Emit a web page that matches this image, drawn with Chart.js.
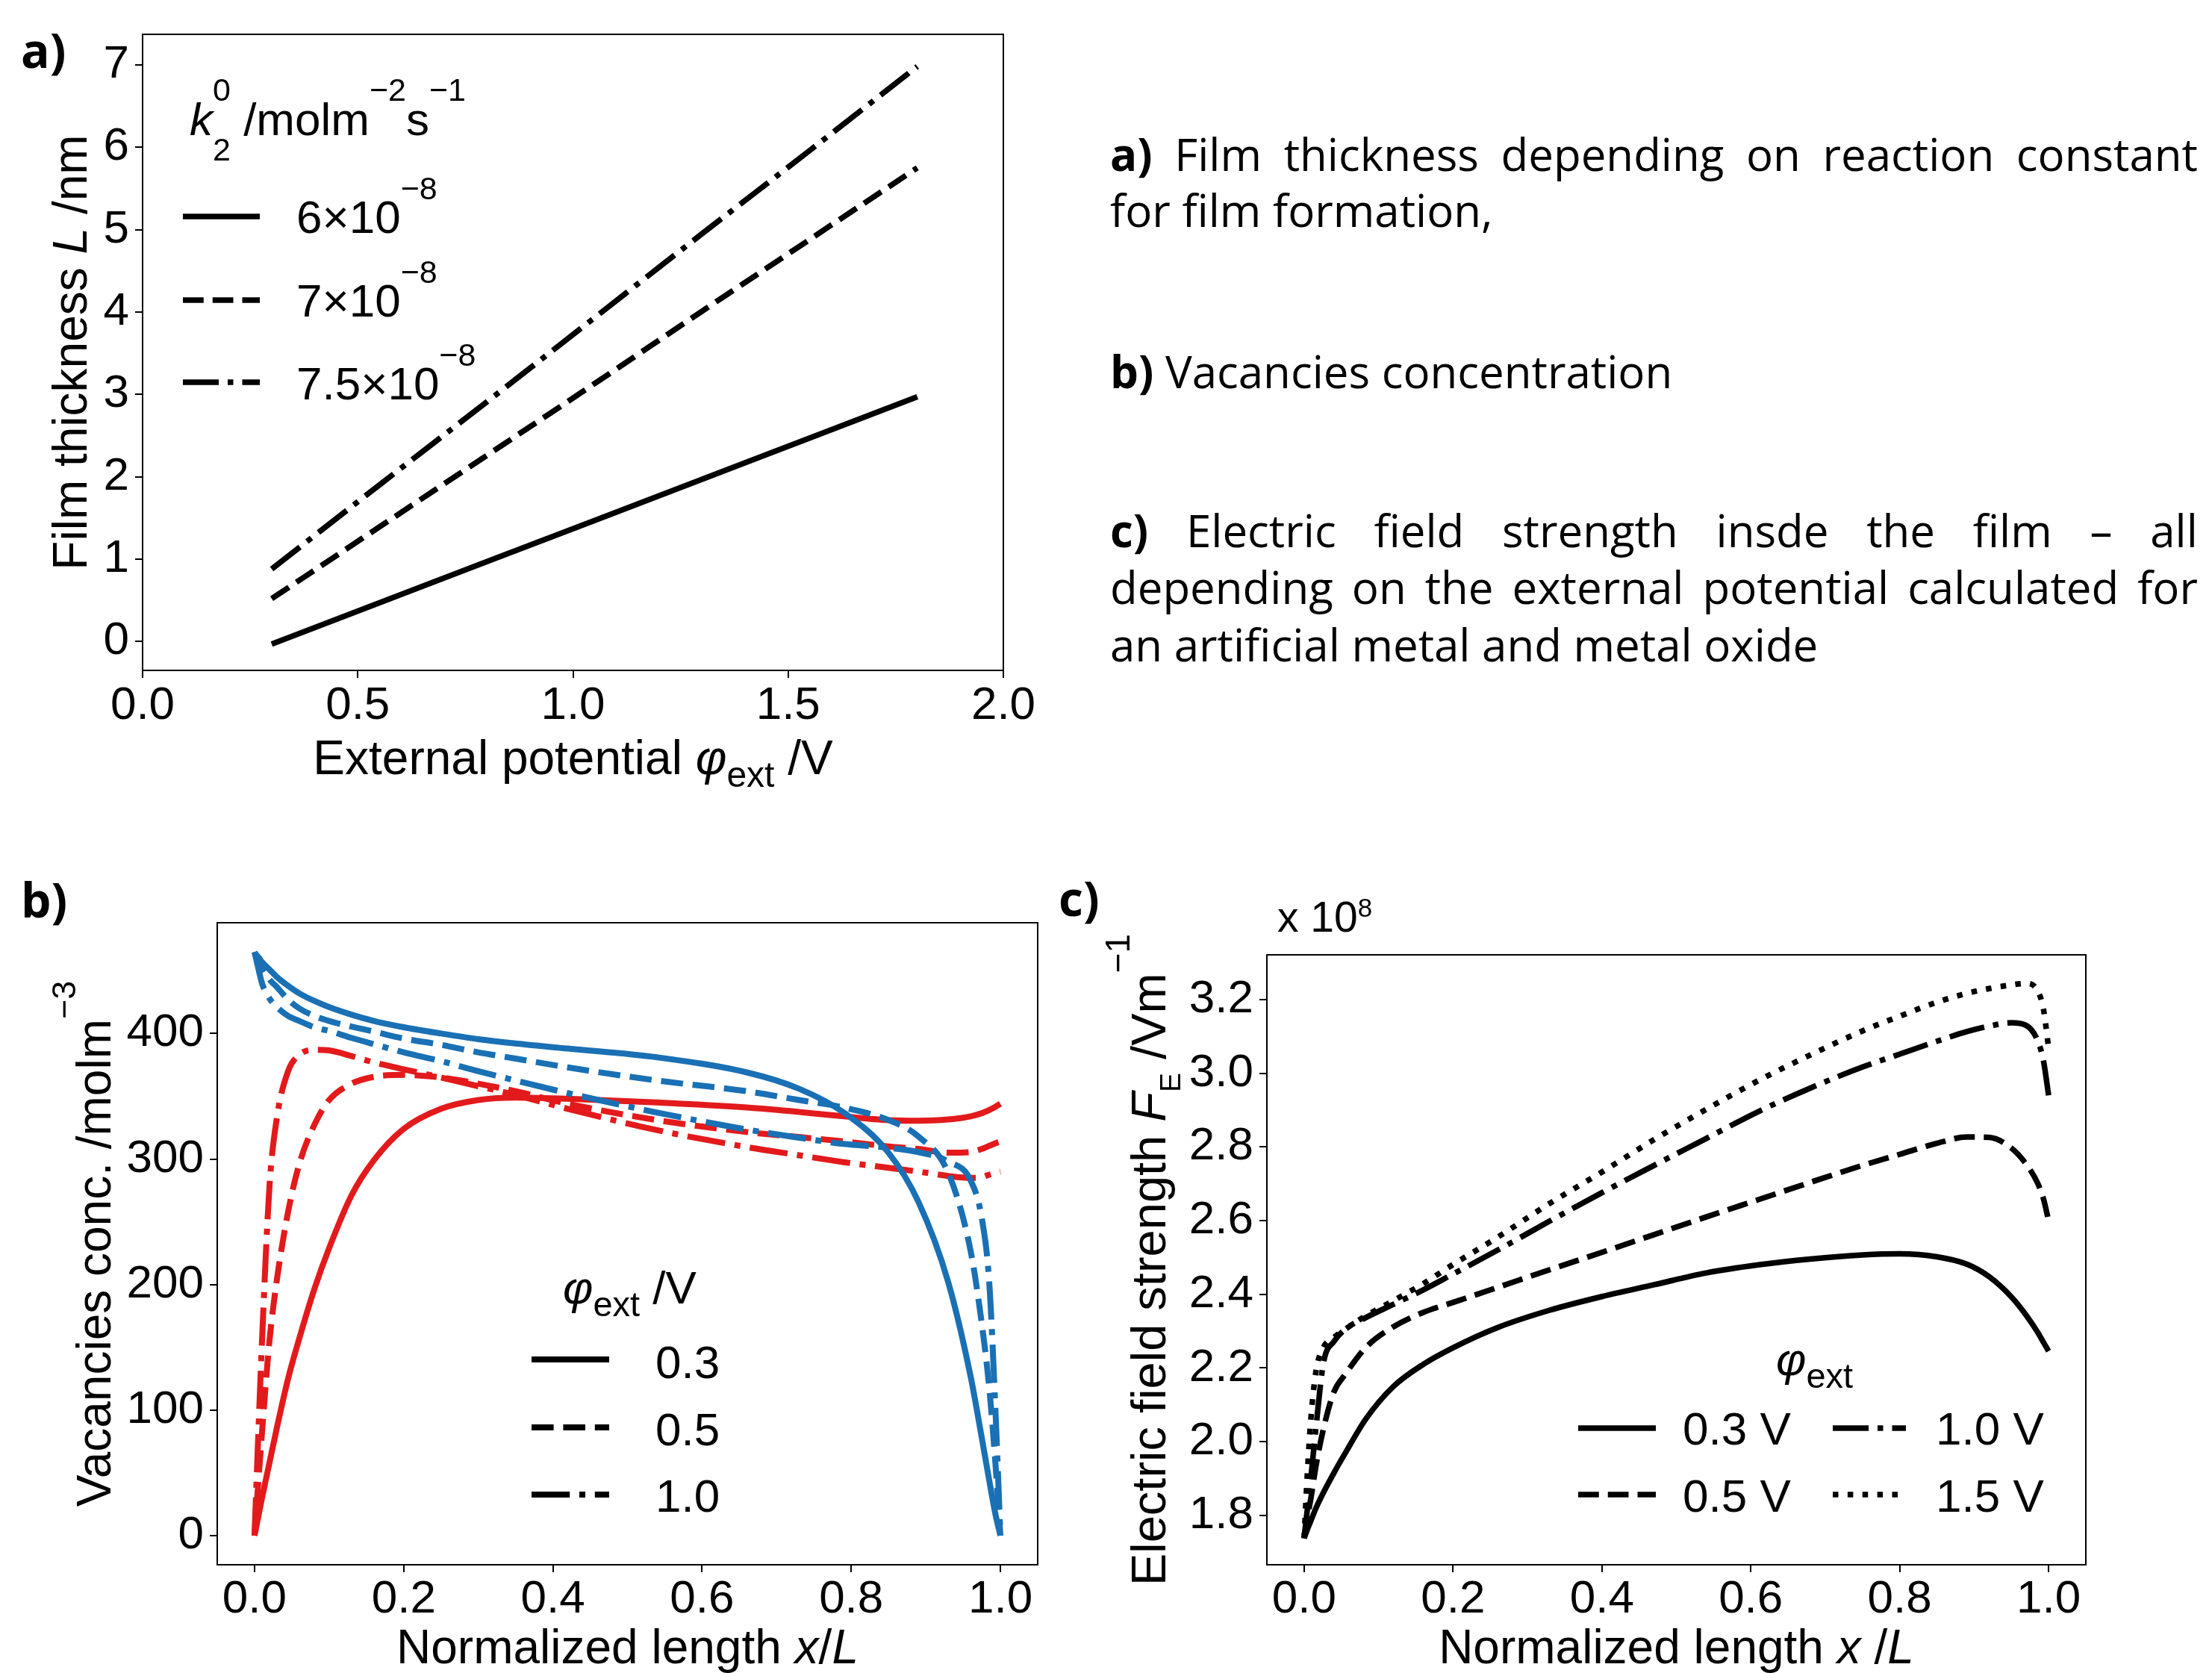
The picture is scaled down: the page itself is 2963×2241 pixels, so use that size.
<!DOCTYPE html>
<html>
<head>
<meta charset="utf-8">
<script src="https://cdn.jsdelivr.net/npm/chart.js@4.4.1/dist/chart.umd.min.js"></script>
<style>
  html, body { margin: 0; padding: 0; background: #fff; }
  body { width: 2963px; height: 2241px; position: relative; overflow: hidden; }
  canvas { position: absolute; }
  .lbl { position: absolute; font-family: 'Open Sans'; font-weight: 700; font-size: 64px; line-height: 64px; color: #000; }
  .txt { position: absolute; left: 1487px; width: 1457px; font-family: 'Open Sans'; font-size: 60px; line-height: 60px; white-space: nowrap; color: #000; }
  .just { display: flex; justify-content: space-between; }
</style>
</head>
<body>
<canvas id="chartA" width="1440" height="1100" style="left:0;top:0;width:1440px;height:1100px"></canvas>
<canvas id="chartB" width="1420" height="1101" style="left:0;top:1140px;width:1420px;height:1101px"></canvas>
<canvas id="chartC" width="1543" height="1101" style="left:1420px;top:1140px;width:1543px;height:1101px"></canvas>

<div class="lbl" style="left:28px;top:35px">a)</div>
<div class="lbl" style="left:28px;top:1173px">b)</div>
<div class="lbl" style="left:1418px;top:1171px">c)</div>

<div class="txt just" style="top:176px"><b>a)</b><span>Film</span><span>thickness</span><span>depending</span><span>on</span><span>reaction</span><span>constant</span></div>
<div class="txt" style="top:251px">for film formation,</div>
<div class="txt" style="top:467px"><b>b)</b> Vacancies concentration</div>
<div class="txt just" style="top:680px"><b>c)</b><span>Electric</span><span>field</span><span>strength</span><span>insde</span><span>the</span><span>film</span><span>–</span><span>all</span></div>
<div class="txt just" style="top:756px"><span>depending</span><span>on</span><span>the</span><span>external</span><span>potential</span><span>calculated</span><span>for</span></div>
<div class="txt" style="top:833px">an artificial metal and metal oxide</div>

<script>
// a) film thickness vs external potential
const aX = [0.3, 0.55, 0.8, 1.05, 1.3, 1.55, 1.8];
const aK6 = [-0.03, 0.47, 0.97, 1.47, 1.97, 2.47, 2.97];
const aK7 = [0.52, 1.39, 2.26, 3.13, 4.01, 4.88, 5.75];
const aK75 = [0.88, 1.9, 2.91, 3.93, 4.95, 5.96, 6.98];
const aXTicks = [0, 0.5, 1, 1.5, 2];
const aYTicks = [0, 1, 2, 3, 4, 5, 6, 7];

// b) vacancies concentration, blue = metal side, red = oxide side
const bX = [0, 0.005, 0.01, 0.02, 0.03, 0.045, 0.06, 0.08, 0.1, 0.13, 0.16, 0.2, 0.25, 0.3, 0.35, 0.42, 0.54, 0.66, 0.73, 0.79, 0.85, 0.89, 0.93, 0.96, 0.975, 0.985, 0.993, 1.0];
const bBlue03 = [464, 461, 457, 451, 445, 438, 432, 426, 421, 415, 410, 405, 400, 395.5, 392, 388, 381, 369, 356, 337, 305, 266, 202, 127, 78, 44, 18, 0];
const bBlue05 = [465, 458, 452, 443, 437, 427, 420, 414, 410, 405.5, 401.5, 396, 391, 385, 380, 373, 362.5, 354, 347, 341, 331, 318, 289, 227, 169, 118, 60, 0];
const bBlue10 = [465, 452, 440, 428, 421, 414, 410, 405, 402, 396.5, 391.5, 385, 378, 370, 362.5, 352.5, 337, 323.5, 317, 312, 309, 305.5, 298, 283, 253, 202, 105, 0];
const bRed03 = [0, 15, 30, 58, 86, 125, 157, 196, 229, 271, 299, 324, 340, 347, 349, 348, 345, 341, 337.5, 334, 331, 330.5, 331.5, 334, 336.5, 339, 341.5, 344];
const bRed05 = [0, 42, 82, 155, 204, 258, 296, 327, 347, 360, 365.5, 367, 365, 360, 354, 344, 331, 321.5, 317.5, 314, 310, 308, 305, 305.5, 308, 310.5, 312.5, 314];
const bRed10 = [0, 80, 155, 278, 333, 370, 383, 387, 386.5, 382, 377, 371.5, 365, 358, 351, 340, 323, 309.5, 303, 297.5, 293, 290, 286.5, 285, 285.5, 287.5, 289, 290];
const bXTicks = [0, 0.2, 0.4, 0.6, 0.8, 1.0];
const bYTicks = [0, 100, 200, 300, 400];

// c) electric field strength (x 1e8 V/m)
const cX = [0, 0.004, 0.009, 0.016, 0.026, 0.04, 0.055, 0.083, 0.12, 0.16, 0.2, 0.26, 0.33, 0.4, 0.47, 0.54, 0.61, 0.68, 0.75, 0.8, 0.85, 0.89, 0.92, 0.95, 0.97, 0.985, 0.993, 1.0];
const c03 = [1.738, 1.76, 1.785, 1.82, 1.862, 1.915, 1.968, 2.062, 2.15, 2.21, 2.255, 2.31, 2.357, 2.394, 2.426, 2.458, 2.48, 2.496, 2.507, 2.51, 2.502, 2.482, 2.448, 2.393, 2.343, 2.298, 2.27, 2.246];
const c05 = [1.738, 1.79, 1.845, 1.935, 2.035, 2.135, 2.182, 2.256, 2.312, 2.351, 2.378, 2.419, 2.467, 2.514, 2.562, 2.61, 2.657, 2.704, 2.75, 2.78, 2.81, 2.827, 2.826, 2.797, 2.753, 2.703, 2.66, 2.6];
const c10 = [1.738, 1.81, 1.9, 2.04, 2.214, 2.272, 2.305, 2.337, 2.373, 2.412, 2.455, 2.52, 2.599, 2.676, 2.75, 2.823, 2.896, 2.96, 3.017, 3.052, 3.087, 3.113, 3.128, 3.137, 3.13, 3.09, 3.035, 2.94];
const c15 = [1.738, 1.9, 2.06, 2.192, 2.256, 2.283, 2.305, 2.342, 2.383, 2.429, 2.481, 2.555, 2.647, 2.732, 2.82, 2.902, 2.98, 3.05, 3.115, 3.155, 3.193, 3.217, 3.23, 3.24, 3.244, 3.225, 3.175, 3.069];
const cYTicks = [1.8, 2.0, 2.2, 2.4, 2.6, 2.8, 3.0, 3.2];

const BLUE = '#1a70b4';
const RED = '#e31a1c';
const FONT = 'Liberation Sans';
const TITLE = 64;

const pts = (xs, ys) => xs.map((x, i) => ({ x, y: ys[i] }));
const dashOf = (kind, lw) => ({
  solid: [],
  dashed: [3.7 * lw, 1.6 * lw],
  dashdot: [6.4 * lw, 1.6 * lw, 1 * lw, 1.6 * lw],
  dotted: [1 * lw, 1.65 * lw]
}[kind]);

function line(data, color, kind, lw) {
  return {
    data, borderColor: color, borderWidth: lw, borderDash: dashOf(kind, lw),
    borderCapStyle: 'butt', borderJoinStyle: 'round', pointRadius: 0,
    fill: false, cubicInterpolationMode: 'monotone'
  };
}

function axis(min, max, ticks, size, fmt, pad) {
  return {
    type: 'linear', min, max,
    afterBuildTicks: s => { s.ticks = ticks.map(v => ({ value: v })); },
    afterFit: s => { if (s.isHorizontal()) s.height = size; else s.width = size; },
    grid: { display: true, drawOnChartArea: false, drawTicks: true, tickLength: 10, color: '#000', lineWidth: 2 },
    border: { display: false },
    ticks: {
      color: '#000', padding: pad, maxRotation: 0, autoSkip: false,
      font: { family: FONT, size: 62 },
      callback: v => fmt(v)
    }
  };
}

// text with italic / sub / superscript pieces
const N = t => ({ t });
const I = t => ({ t, i: true });
const SUP = (t, dy = 0.72, sc = 0.7) => ({ t, sc, dy });
const SUB = (t, dy = -0.27, sc = 0.75) => ({ t, sc, dy });

function rich(ctx, parts, x, y, size, center, rot) {
  const items = parts.map(p => {
    const font = (p.i ? 'italic ' : '') + Math.round(size * (p.sc || 1)) + 'px "' + FONT + '"';
    ctx.font = font;
    return { t: p.t, font, w: ctx.measureText(p.t).width, dy: (p.dy || 0) * size, keep: p.keep };
  });
  const total = items.reduce((s, it) => s + (it.keep ? 0 : it.w), 0);
  ctx.save();
  ctx.translate(x, y);
  if (rot) ctx.rotate(-Math.PI / 2);
  ctx.fillStyle = '#000';
  ctx.textBaseline = 'alphabetic';
  ctx.textAlign = 'left';
  let cx = center ? -total / 2 : 0;
  items.forEach(it => {
    ctx.font = it.font;
    ctx.fillText(it.t, cx, -it.dy);
    if (!it.keep) cx += it.w;
  });
  ctx.restore();
}

function sample(ctx, ds, x1, x2, y) {
  ctx.save();
  ctx.strokeStyle = '#000';
  ctx.lineWidth = ds.borderWidth;
  ctx.lineCap = 'butt';
  ctx.setLineDash(ds.borderDash);
  ctx.beginPath();
  ctx.moveTo(x1, y);
  ctx.lineTo(x2, y);
  ctx.stroke();
  ctx.restore();
}

function decor(draw) {
  return {
    id: 'decor',
    afterDatasetsDraw(chart) {
      const ctx = chart.ctx, a = chart.chartArea;
      ctx.save();
      ctx.strokeStyle = '#000';
      ctx.lineWidth = 2;
      ctx.strokeRect(a.left, a.top, a.right - a.left, a.bottom - a.top);
      ctx.restore();
      draw(ctx, a, chart.data.datasets);
    }
  };
}

function make(id, datasets, x, y, pad, plugin) {
  return new Chart(document.getElementById(id), {
    type: 'line',
    data: { datasets },
    options: {
      responsive: false, animation: false, devicePixelRatio: 1,
      layout: { autoPadding: false, padding: pad },
      plugins: { legend: { display: false }, tooltip: { enabled: false } },
      scales: { x, y }
    },
    plugins: [plugin]
  });
}

const f1 = v => v.toFixed(1);
const f0 = v => v.toFixed(0);

// panel a
make('chartA', [
  line(pts(aX, aK6), '#000', 'solid', 7.5),
  line(pts(aX, aK7), '#000', 'dashed', 7.5),
  line(pts(aX, aK75), '#000', 'dashdot', 7.5)
], axis(0, 2, aXTicks, 150, f1, 1), axis(-0.35, 7.37, aYTicks, 150, f0, 8),
{ left: 41, right: 96, top: 46, bottom: 52 },
decor((ctx, a, ds) => {
  const mid = (a.top + a.bottom) / 2, cx = (a.left + a.right) / 2;
  rich(ctx, [N('Film thickness '), I('L'), N(' /nm')], 116, mid, TITLE, true, true);
  rich(ctx, [N('External potential '), I('φ'), SUB('ext'), N(' /V')], cx, 1037, TITLE, true, false);
  rich(ctx, [I('k'), { t: '2', sc: 0.7, dy: -0.55, keep: true }, SUP('0', 0.75), N(' /molm'), SUP('−2', 0.75), N('s'), SUP('−1', 0.75)], 254, 181, 62, false, false);
  const labels = [[N('6×10'), SUP('−8')], [N('7×10'), SUP('−8')], [N('7.5×10'), SUP('−8')]];
  const ys = [290, 402, 512], bs = [312, 424, 535];
  labels.forEach((l, i) => {
    sample(ctx, ds[i], 245, 348, ys[i]);
    rich(ctx, l, 397, bs[i], 62, false, false);
  });
}));

// panel b
make('chartB', [
  line(pts(bX, bBlue03), BLUE, 'solid', 8),
  line(pts(bX, bBlue05), BLUE, 'dashed', 8),
  line(pts(bX, bBlue10), BLUE, 'dashdot', 8),
  line(pts(bX, bRed03), RED, 'solid', 8),
  line(pts(bX, bRed05), RED, 'dashed', 8),
  line(pts(bX, bRed10), RED, 'dashdot', 8)
], axis(-0.05, 1.05, bXTicks, 120, f1, 0), axis(-23.25, 488.25, bYTicks, 150, f0, 8),
{ left: 141, right: 30, top: 96, bottom: 25 },
decor((ctx, a, ds) => {
  const mid = (a.top + a.bottom) / 2, cx = (a.left + a.right) / 2;
  rich(ctx, [N('Vacancies conc. /molm'), SUP('−3', 0.74)], 148, mid, TITLE, true, true);
  rich(ctx, [N('Normalized length '), I('x'), N('/'), I('L')], cx, 1088, TITLE, true, false);
  rich(ctx, [I('φ'), SUB('ext'), N(' /V')], 754, 606, 62, false, false);
  const labels = ['0.3', '0.5', '1.0'];
  const ys = [681, 772, 862], bs = [706, 796, 885];
  labels.forEach((l, i) => {
    sample(ctx, ds[i], 712, 816, ys[i]);
    rich(ctx, [N(l)], 878, bs[i], 62, false, false);
  });
}));

// panel c
make('chartC', [
  line(pts(cX, c03), '#000', 'solid', 7.5),
  line(pts(cX, c05), '#000', 'dashed', 7.5),
  line(pts(cX, c10), '#000', 'dashdot', 7.5),
  line(pts(cX, c15), '#000', 'dotted', 7.5)
], axis(-0.05, 1.05, bXTicks, 120, f1, 0), axis(1.666, 3.3216, cYTicks, 150, f1, 8),
{ left: 127, right: 169, top: 139, bottom: 25 },
decor((ctx, a, ds) => {
  const mid = (a.top + a.bottom) / 2, cx = (a.left + a.right) / 2;
  rich(ctx, [N('x 10'), { t: '8', sc: 0.62, dy: 0.35 }], 291, 108, 57, false, false);
  rich(ctx, [N('Electric field strength '), I('F'), SUB('E', -0.3, 0.6), N(' /Vm'), SUP('−1', 0.74)], 141, mid, 65, true, true);
  rich(ctx, [N('Normalized length '), I('x'), N(' /'), I('L')], cx, 1088, TITLE, true, false);
  rich(ctx, [I('φ'), SUB('ext')], 959, 702, 62, false, false);
  const cols = [[694, 798, 834], [1035, 1133, 1173]];
  const rows = [[773, 795], [862, 885]];
  const labels = ['0.3 V', '0.5 V', '1.0 V', '1.5 V'];
  labels.forEach((l, i) => {
    const c = cols[Math.floor(i / 2)], r = rows[i % 2];
    sample(ctx, ds[i], c[0], c[1], r[0]);
    rich(ctx, [N(l)], c[2], r[1], 62, false, false);
  });
}));
</script>
</body>
</html>
